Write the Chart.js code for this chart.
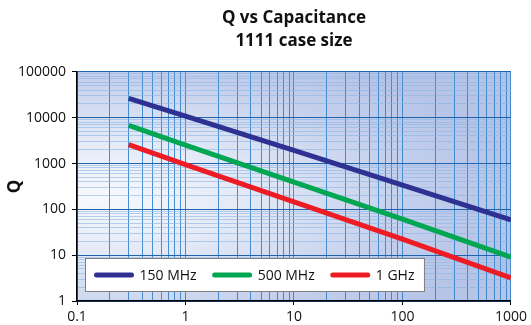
<!DOCTYPE html>
<html>
<head>
<meta charset="utf-8">
<script src="https://cdn.jsdelivr.net/npm/chart.js@4.4.1/dist/chart.umd.min.js"></script>
<style>
    html, body { margin: 0; padding: 0; background: #fff; }
    canvas { display: block; }
</style>
</head>
<body>
<canvas id="qChart" width="531" height="325"></canvas>
<script>
// capacitance (pF) and Q
const capacitance = [0.3, 1, 10, 100, 1000];
const q150MHz = [26500, 10800, 1930, 340, 59];
const q500MHz = [6800, 2530, 394, 61, 9.1];
const q1GHz = [2600, 946, 146, 22.5, 3.2];

const seriesNames = ['150 MHz', '500 MHz', '1 GHz'];
const xTickLabels = ['0.1', '1', '10', '100', '1000'];
const yTickLabels = ['1', '10', '100', '1000', '10000', '100000'];

const FONT = "'Open Sans', 'DejaVu Sans', sans-serif";

// decade ticks plus the 2..9 minor ones between them
function logTicks(labels) {
    const decades = labels.map(Number);
    const out = [];
    decades.forEach((d, i) => {
        out.push(d);
        if (i < decades.length - 1) {
            for (let k = 2; k <= 9; k++) out.push(+(d * k).toPrecision(3));
        }
    });
    return out;
}

function isDecade(v) {
    const l = Math.log10(v);
    return Math.abs(l - Math.round(l)) < 1e-9;
}

function toPoints(ys) {
    return capacitance.map((x, i) => ({ x: x, y: ys[i] }));
}

const bgPlugin = {
    id: 'plotBackground',
    beforeDraw(chart) {
        const { ctx, chartArea: a } = chart;
        const w = a.right - a.left, h = a.bottom - a.top;
        const cx = a.left + w * 0.05, cy = a.top + h * 0.55;
        const sy = 0.4;
        ctx.save();
        ctx.beginPath();
        ctx.rect(a.left, a.top, w, h);
        ctx.clip();
        ctx.translate(cx, cy);
        ctx.scale(1, sy);
        const g = ctx.createRadialGradient(0, 0, 0, 0, 0, w * 0.95);
        g.addColorStop(0, '#f7f9fd');
        g.addColorStop(0.35, '#e3e9f6');
        g.addColorStop(0.75, '#c3cfec');
        g.addColorStop(1, '#b6c4e7');
        ctx.fillStyle = g;
        ctx.fillRect(-w, -h / sy * 2, w * 3, h / sy * 4);
        ctx.restore();
    }
};

const legendPlugin = {
    id: 'boxLegend',
    afterDraw(chart) {
        const { ctx, chartArea: a } = chart;
        const sets = chart.data.datasets;
        ctx.save();
        ctx.font = '14px ' + FONT;
        const sampleLen = 39, sampleGap = 6, itemGap = 16, padL = 9, padR = 10, boxH = 33;
        const widths = sets.map(s => ctx.measureText(s.label).width);
        let boxW = padL + padR;
        widths.forEach((tw, i) => { boxW += sampleLen + sampleGap + tw + (i < widths.length - 1 ? itemGap : 0); });
        const bx = a.left + 8.5, by = a.bottom - 9.5 - boxH;
        ctx.fillStyle = '#fff';
        ctx.fillRect(bx, by, boxW, boxH);
        ctx.strokeStyle = '#7f7f7f';
        ctx.lineWidth = 1;
        ctx.strokeRect(bx, by, boxW, boxH);
        let x = bx + padL;
        const ymid = by + boxH / 2;
        sets.forEach((s, i) => {
            ctx.beginPath();
            ctx.lineCap = 'round';
            ctx.lineWidth = 5;
            ctx.strokeStyle = s.borderColor;
            ctx.moveTo(x + 2, ymid);
            ctx.lineTo(x + sampleLen - 2, ymid);
            ctx.stroke();
            x += sampleLen + sampleGap;
            ctx.fillStyle = '#111';
            ctx.textBaseline = 'middle';
            ctx.fillText(s.label, x, ymid + 1);
            x += widths[i] + itemGap;
        });
        ctx.restore();
    }
};

function axisOptions(labels, horizontal) {
    const values = logTicks(labels);
    return {
        type: 'logarithmic',
        min: Number(labels[0]),
        max: Number(labels[labels.length - 1]),
        afterBuildTicks(axis) {
            axis.ticks = values.map(v => ({ value: v, major: isDecade(v) }));
        },
        afterFit(axis) {
            // pin the plot box to where it sits in the reference
            if (horizontal) axis.height = 24;
            else axis.width = 77;
        },
        ticks: {
            autoSkip: false,
            maxRotation: 0,
            minRotation: 0,
            padding: horizontal ? 4 : 6,
            color: '#111',
            font: { family: FONT, size: 14 },
            callback(value) {
                const i = labels.map(Number).indexOf(value);
                return i >= 0 ? labels[i] : '';
            }
        },
        grid: {
            lineWidth: 1,
            color(ctx) {
                const v = ctx.tick ? ctx.tick.value : 0;
                if (horizontal) return 'rgba(40, 125, 200, 0.85)';
                return isDecade(v) ? '#1f63ad' : 'rgba(140, 180, 228, 0.6)';
            },
            tickColor(ctx) {
                const v = ctx.tick ? ctx.tick.value : 0;
                return isDecade(v) ? '#000' : 'rgba(0,0,0,0)';
            },
            tickLength: horizontal ? 4 : 5,
            drawTicks: true
        },
        border: { display: true, color: '#000', width: 1.5 }
    };
}

const xAxis = axisOptions(xTickLabels, true);
const yAxis = axisOptions(yTickLabels, false);
yAxis.title = {
    display: true,
    text: 'Q',
    color: '#111',
    font: { family: FONT, size: 17, weight: 'bold' },
    padding: { top: 5, bottom: 0 }
};

new Chart(document.getElementById('qChart'), {
    type: 'line',
    data: {
        datasets: [
            { label: seriesNames[0], data: toPoints(q150MHz), borderColor: '#2e3192' },
            { label: seriesNames[1], data: toPoints(q500MHz), borderColor: '#00a651' },
            { label: seriesNames[2], data: toPoints(q1GHz), borderColor: '#ed1c24' }
        ].map(d => Object.assign(d, {
            borderWidth: 5,
            pointRadius: 0,
            tension: 0,
            fill: false,
            borderCapStyle: 'butt'
        }))
    },
    options: {
        responsive: false,
        animation: false,
        layout: { padding: { left: 0, right: 17, top: 2, bottom: 0 } },
        scales: { x: xAxis, y: yAxis },
        plugins: {
            legend: { display: false },
            tooltip: { enabled: false },
            title: {
                display: true,
                fullSize: false,
                text: ['Q vs Capacitance', '1111 case size'],
                color: '#111',
                font: { family: FONT, size: 17, weight: 'bold', lineHeight: 1.35 },
                padding: { top: 5, bottom: 19 }
            }
        }
    },
    plugins: [bgPlugin, legendPlugin]
});
</script>
</body>
</html>
